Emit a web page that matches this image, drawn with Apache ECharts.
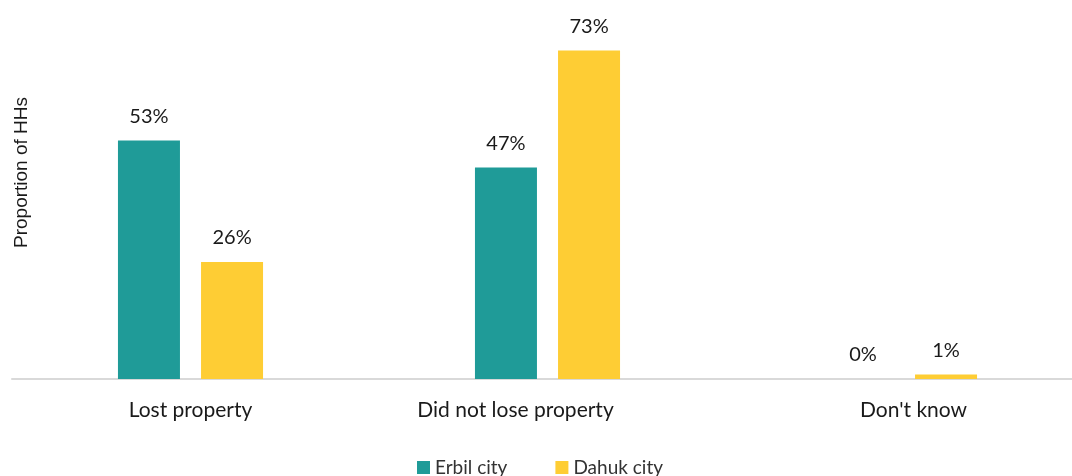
<!DOCTYPE html>
<html>
<head>
<meta charset="utf-8">
<script src="https://cdn.jsdelivr.net/npm/echarts@6/dist/echarts.min.js"></script>
<style>
    html, body { margin: 0; padding: 0; background: #fff; }
    #chart { width: 1072px; height: 476px; }
</style>
</head>
<body>
<div id="chart"></div>
<script>
// categories and values
const categories = ['Lost property', 'Did not lose property', "Don't know"]
const erbilValues = [53, 47, 0]
const dahukValues = [26, 73, 1]
const seriesNames = ['Erbil city', 'Dahuk city']

const chart = echarts.init(document.getElementById('chart'))
const font = 'Lato, "Noto Sans", sans-serif'

const labelStyle = {
    show: true,
    position: 'top',
    distance: 14,
    formatter: '{c}%',
    color: '#1a1a1a',
    fontSize: 20,
    fontFamily: font
}

chart.setOption({
    animation: false,
    color: ['#1f9b98', '#fecd34'],
    grid: {
        left: 12,
        top: 19,
        width: 1071,
        height: 360,
        outerBoundsMode: 'none',
        containLabel: false
    },
    legend: {
        bottom: -6,
        left: 412,
        itemWidth: 13,
        itemHeight: 13,
        itemGap: 48,
        icon: 'rect',
        textStyle: { fontSize: 19, color: '#333', fontFamily: font },
        data: seriesNames
    },
    graphic: [{
        type: 'text',
        left: 12,
        top: 97,
        rotation: Math.PI / 2,
        style: {
            text: 'Proportion of HHs',
            fontSize: 19,
            fontFamily: '"Liberation Sans", Arial, sans-serif',
            fill: '#1a1a1a'
        }
    }],
    xAxis: {
        type: 'category',
        data: categories,
        axisLine: { lineStyle: { color: '#d9d9d9', width: 2 } },
        axisTick: { show: false },
        axisLabel: {
            margin: 21,
            fontSize: 21,
            color: '#1a1a1a',
            fontFamily: font,
            formatter: function (v, i) {
                if (i === 1) return '{left|' + v + '}'
                if (i === 2) return '{right|' + v + '}'
                return v
            },
            rich: {
                left: { fontSize: 21, color: '#1a1a1a', fontFamily: font, padding: [0, 64, 0, 0] },
                right: { fontSize: 21, color: '#1a1a1a', fontFamily: font, padding: [0, 0, 0, 18] }
            }
        }
    },
    yAxis: {
        type: 'value',
        min: 0,
        max: 80,
        show: false
    },
    series: [
        {
            name: seriesNames[0],
            type: 'bar',
            barWidth: 62,
            barGap: '34%',
            data: erbilValues,
            label: labelStyle
        },
        {
            name: seriesNames[1],
            type: 'bar',
            barWidth: 62,
            barGap: '34%',
            data: dahukValues,
            label: labelStyle
        }
    ]
})
</script>
</body>
</html>
